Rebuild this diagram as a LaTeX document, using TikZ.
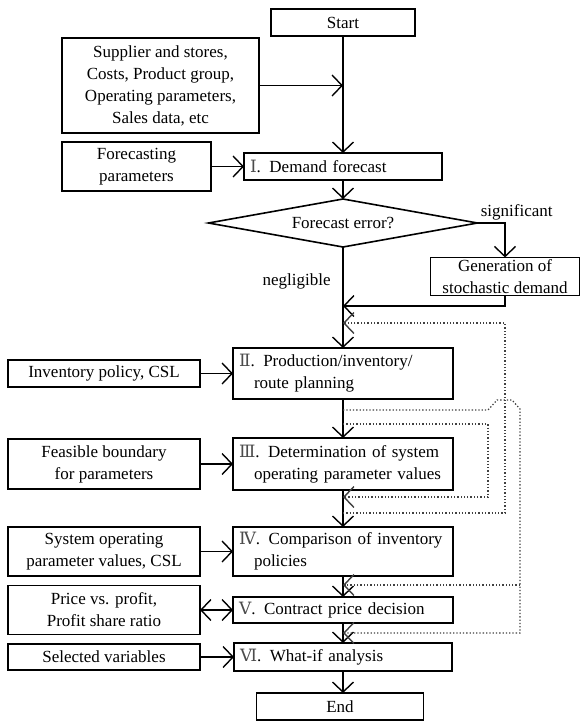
\documentclass[tikz,border=0pt]{standalone}
\usepackage{fontspec}
\setmainfont{Liberation Serif}
\newfontfamily\romfont{DejaVu Serif}
\usepackage{tikz}
\usetikzlibrary{arrows.meta, shapes.geometric}

\newcommand{\rnum}[1]{{\romfont\color{black!70}#1}}

\begin{document}
\begin{tikzpicture}[
    x=1pt, y=-1pt,
    every node/.style={font=\fontsize{17}{22}\selectfont, outer sep=0pt},
    % Input boxes on the left
    inbox/.style={draw, line width=1.8pt, align=center, inner sep=2pt},
    % Stage boxes in the main column
    procbox/.style={draw, line width=1.8pt, align=left, inner xsep=6pt,
                    inner ysep=2pt, text width=#1},
    procbox/.default=208pt,
    decision/.style={diamond, draw, line width=1.6pt, aspect=5.6, inner sep=0pt,
                     minimum width=269pt, minimum height=48pt},
    % Standard arrow
    barb/.tip={Straight Barb[length=10pt, width=21pt, line width=1.4pt]},
    arrow/.style={-barb, line width=1.5pt},
    % Feedback / skip arrows
    dotarrow/.style={-barb, dotted, line width=1.3pt, black!75}
]
\useasboundingbox (0,0) rectangle (581,721);

% === NODES ===

% Start and data
	\node [inbox, minimum width=144pt, minimum height=27pt] (start) at (343,22.5) {Start};
	\node [inbox, minimum width=197pt, minimum height=95pt] (inputs) at (160.5,85.5)
	{Supplier and stores,\\Costs, Product group,\\Operating parameters,\\Sales data, etc};

% Stage I and the decision
	\node [inbox, minimum width=149pt, minimum height=49pt] (fcpar) at (136.5,166.5) {Forecasting\\parameters};
	\node [procbox=186pt, minimum height=27pt] (forecast) at (343,166.5) {\rnum{Ⅰ}. Demand forecast};
	\node [decision] (error) at (343,223) {Forecast error?};
	\node [inbox, minimum width=149pt, minimum height=33pt] (stoch) at (505,276.5) {Generation of\\stochastic demand};

% Stage II
	\node [procbox, minimum height=51pt] (plan) at (343,373.5)
	{\rnum{Ⅱ}. Production/inventory/\\\hspace*{15pt}route planning};
	\node [inbox, minimum width=192pt, minimum height=27pt] (invpol) at (104,373.5) {Inventory policy, CSL};

% Stage III
	\node [procbox, minimum height=52pt] (param) at (343,464)
	{\rnum{Ⅲ}. Determination of system\\\hspace*{15pt}operating parameter values};
	\node [inbox, minimum width=192pt, minimum height=50pt] (bound) at (104,464) {Feasible boundary\\for parameters};

% Stage IV
	\node [procbox, minimum height=49pt] (compare) at (343,551.5)
	{\rnum{Ⅳ}. Comparison of inventory\\\hspace*{15pt}policies};
	\node [inbox, minimum width=192pt, minimum height=49pt] (sysop) at (104,551.5) {System operating\\parameter values, CSL};

% Stage V
	\node [procbox, minimum height=26pt] (decide) at (343,610) {\rnum{Ⅴ}. Contract price decision};
	\node [inbox, minimum width=192pt, minimum height=49pt] (price) at (104,610) {Price vs. profit,\\Profit share ratio};

% Stage VI and end
	\node [procbox=206pt, minimum height=28pt] (whatif) at (343,657) {\rnum{Ⅵ}. What-if analysis};
	\node [inbox, minimum width=192pt, minimum height=26pt] (selvar) at (104,657) {Selected variables};
	\node [inbox, minimum width=167pt, minimum height=27pt] (finish) at (340,706.5) {End};

% points on the main line
\coordinate (mergeG) at (343,306);
\coordinate (inC) at (343,323);
\coordinate (tapA) at (343,410);
\coordinate (tapB) at (343,424);
\coordinate (inB) at (343,497);
\coordinate (tapC) at (343,513);
\coordinate (inA1) at (343,585);
\coordinate (inA2) at (343,633);

% === MAIN FLOW ===
\draw[arrow] (start) -- (forecast);
\draw[arrow] (inputs.east) -- (inputs.east -| start.south);
\draw[arrow] (fcpar) -- (forecast);
\draw[arrow] (forecast) -- (error);
\draw[arrow] (error.east) -- node[pos=0, above right] {significant} (error.east -| stoch.north) -- (stoch.north);
\draw[arrow] (error.south) -- node[pos=0.34, left=9pt] {negligible} (plan.north);
\draw[arrow] (stoch.south) |- (mergeG);
\draw[arrow] (invpol) -- (plan);
\draw[arrow] (plan) -- (param);
\draw[arrow] (bound) -- (param);
\draw[arrow] (param) -- (compare);
\draw[arrow] (sysop) -- (compare);
\draw[arrow] (compare) -- (decide);
\draw[barb-barb, line width=1.5pt] (price) -- (decide);
\draw[arrow] (decide) -- (whatif);
\draw[arrow] (selvar) -- (whatif);
\draw[arrow] (whatif.south) -- (whatif.south |- finish.north);

% === DOTTED LOOPS ===
\draw[dotarrow] (tapC) -- ++(162,0) |- (inC);
\draw[dotarrow] (tapB) -- ++(145,0) |- (inB);
\draw[dotarrow] (tapA) -- ++(145,0) -- ++(9,-10) -- ++(15,0) -- ++(8,9) coordinate (hopA) |- (inA2);
\draw[dotarrow] (hopA |- inA1) -- (inA1);

\end{tikzpicture}
\end{document}
